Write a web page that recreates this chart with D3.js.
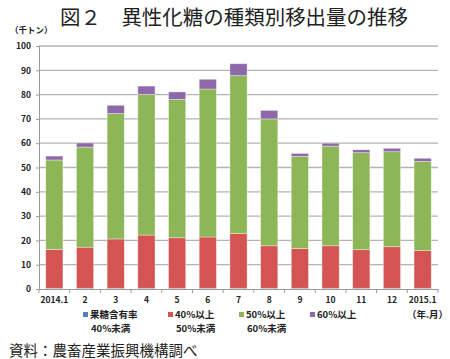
<!DOCTYPE html>
<html><head><meta charset="utf-8">
<script src="https://cdn.jsdelivr.net/npm/d3@7"></script>
<style>body{margin:0;background:#fff}svg{display:block}</style>
</head><body>
<svg id="c" width="450" height="359"></svg>
<script>
const categories = ["2014.1","2","3","4","5","6","7","8","9","10","11","12","2015.1"];
const seriesNames = ["果糖含有率\n40%未満","40%以上\n50%未満","50%以上\n60%未満","60%以上"];
const below40 = [0.3,0.3,0.3,0.3,0.3,0.3,0.3,0.3,0.3,0.3,0.3,0.3,0.3];
const from40to50 = [16.0,16.9,20.3,21.9,20.8,21.1,22.5,17.5,16.4,17.5,15.9,17.1,15.6];
const from50to60 = [36.8,41.2,51.6,57.9,56.9,60.9,65.0,52.2,37.9,41.0,39.9,39.1,36.6];
const above60 = [1.6,1.7,3.4,3.4,3.1,4.0,4.9,3.5,1.2,1.2,1.2,1.4,1.3];
const yTicks = [0,10,20,30,40,50,60,70,80,90,100];
const colors = ["#4f81bd","#d35452","#8db657","#8e69aa"];

const svg = d3.select("#c");
const font = "'Noto Sans CJK JP','Noto Sans',sans-serif";
const m = {l:39, r:438, t:46, b:289};
const x = d3.scaleBand().domain(categories).range([m.l, m.r]).paddingInner(0.44).paddingOuter(0.22);
const y = d3.scaleLinear().domain([0,100]).range([m.b, m.t]);

function fit(sel, w){
  const len = sel.node().getComputedTextLength();
  const fs = parseFloat(sel.attr("font-size"));
  sel.attr("font-size", fs * w / len);
}

// title
const title = svg.append("text").attr("x",60).attr("y",25)
  .attr("font-family",font).attr("font-size",21).attr("fill","#222").text("図２　異性化糖の種類別移出量の推移");
fit(title, 348);
svg.append("text").attr("x",10).attr("y",33).attr("font-family",font).attr("font-size",8.5).attr("font-weight","bold").attr("fill","#222").text("（千トン）");

// gridlines
svg.append("g").selectAll("line").data(yTicks.filter(d=>d>0)).join("line")
  .attr("x1",m.l).attr("x2",m.r).attr("y1",d=>y(d)).attr("y2",d=>y(d))
  .attr("stroke","#b3b3b3").attr("stroke-width",1.3);

// stacks
const data = categories.map((c,i)=>({c, s0:below40[i], s1:from40to50[i], s2:from50to60[i], s3:above60[i]}));
const stack = d3.stack().keys(["s0","s1","s2","s3"])(data);
svg.append("g").selectAll("g").data(stack).join("g").attr("fill",(d,i)=>colors[i])
  .selectAll("rect").data(d=>d).join("rect")
  .attr("x",d=>x(d.data.c)).attr("width",x.bandwidth())
  .attr("y",d=>y(d[1])).attr("height",d=>y(d[0])-y(d[1]))
  .attr("stroke","rgba(255,255,255,0.45)").attr("stroke-width",0.8);

// y axis
const ya = svg.append("g").attr("transform",`translate(${m.l},0)`)
  .call(d3.axisLeft(y).tickValues(yTicks).tickSize(3).tickPadding(5));
ya.select(".domain").attr("stroke","#999");
ya.selectAll(".tick line").attr("stroke","#999");
ya.selectAll("text").attr("font-family",font).attr("font-size",8.5).attr("font-weight","bold").attr("fill","#222");

// x axis
const xa = svg.append("g").attr("transform",`translate(0,${m.b})`)
  .call(d3.axisBottom(x).tickSize(0).tickPadding(8));
xa.select(".domain").attr("stroke","#999");
xa.selectAll("text").attr("font-family",font).attr("font-size",8.5).attr("font-weight","bold").attr("fill","#222");
const step = x.step();
svg.append("g").selectAll("line").data(d3.range(categories.length+1)).join("line")
  .attr("x1",i=>m.l+i*step).attr("x2",i=>m.l+i*step).attr("y1",m.b).attr("y2",m.b+4)
  .attr("stroke","#999");

// legend
const lx = [83,168,239,310];
seriesNames.forEach((n,i)=>{
  svg.append("rect").attr("x",lx[i]).attr("y",312).attr("width",5).attr("height",5).attr("fill",colors[i]);
  n.split("\n").forEach((line,j)=>{
    svg.append("text").attr("font-family",font).attr("font-size",9.5).attr("font-weight","bold").attr("fill","#222")
      .attr("x", j===0 ? lx[i]+7 : lx[i]+8).attr("y",317.5+j*14).text(line);
  });
});
svg.append("text").attr("x",448).attr("y",318).attr("text-anchor","end").attr("font-family",font).attr("font-size",9.5).attr("font-weight","bold").attr("fill","#222").text("（年.月）");

// source
svg.append("text").attr("x",9).attr("y",356).attr("font-family",font).attr("font-size",14.5).attr("fill","#222").text("資料：農畜産業振興機構調べ");
</script>
</body></html>
